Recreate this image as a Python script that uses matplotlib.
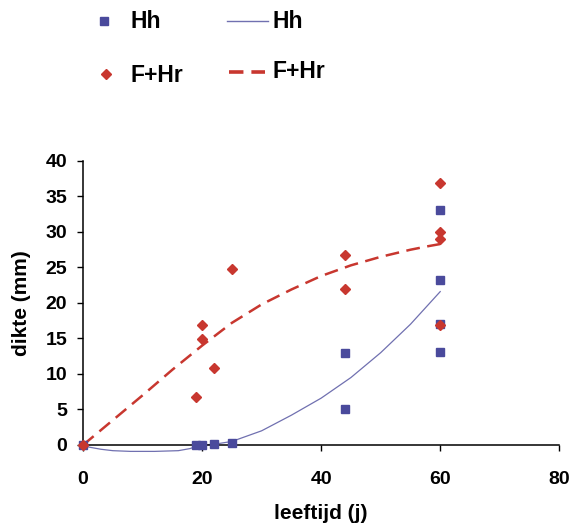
import matplotlib.pyplot as plt

plt.rcParams['font.family'] = ['Liberation Sans', 'DejaVu Sans']
plt.rcParams['font.weight'] = 'bold'

# meetpunten
hh_x = [0, 19, 20, 22, 25, 44, 44, 60, 60, 60, 60]
hh_y = [0, 0, 0, 0.2, 0.3, 13, 5.1, 33.1, 23.2, 17.1, 13.1]
fhr_x = [0, 19, 20, 20, 22, 25, 44, 44, 60, 60, 60, 60]
fhr_y = [0, 6.8, 16.9, 14.9, 10.8, 24.8, 26.8, 21.9, 36.9, 30.0, 29.0, 16.9]

hh_lijn_x = [0, 1, 3, 5, 8, 12, 16, 18, 19, 20, 22, 25, 30, 35, 40, 45, 50, 55, 60]
hh_lijn_y = [0, -0.3, -0.6, -0.8, -0.9, -0.9, -0.8, -0.5, -0.2, 0, 0.1, 0.5, 2.0, 4.2, 6.6, 9.5, 13.0, 17.0, 21.6]
fhr_lijn_x = [0, 5, 10, 15, 20, 25, 30, 35, 40, 45, 50, 55, 58, 60]
fhr_lijn_y = [0, 3.5, 7.0, 10.6, 14.0, 17.2, 19.8, 21.9, 23.8, 25.3, 26.5, 27.5, 28.0, 28.3]

blauw = '#4a4a9c'
lijnblauw = '#7070b0'
rood = '#c8372f'

fig = plt.figure(figsize=(5.73, 5.26), dpi=100)
ax = fig.add_axes([0.145, 0.154, 0.831, 0.540])

ax.plot(hh_lijn_x, hh_lijn_y, color=lijnblauw, lw=0.9, clip_on=False)
ax.plot(fhr_lijn_x, fhr_lijn_y, color=rood, lw=1.8, dashes=(5.5, 3), clip_on=False)
ax.plot(hh_x, hh_y, 's', color=blauw, ms=5.5, clip_on=False, zorder=3)
ax.plot(fhr_x, fhr_y, 'D', color=rood, ms=5, clip_on=False, zorder=3)

ax.set_xlim(0, 80)
ax.set_ylim(0, 40)
ax.set_xticks([0, 20, 40, 60, 80])
ax.set_yticks(range(0, 45, 5))
for s in ['top', 'right']:
    ax.spines[s].set_visible(False)
for s in ['left', 'bottom']:
    ax.spines[s].set_linewidth(1.1)
ax.tick_params(axis='both', direction='out', length=4.5, width=1.0, labelsize=14)
ax.tick_params(axis='x', pad=14)
ax.tick_params(axis='y', pad=7)
ax.set_xlabel('leeftijd (j)', fontsize=15, fontweight='bold', labelpad=12)
ax.set_ylabel('dikte (mm)', fontsize=15, fontweight='bold', labelpad=10)

# legenda in pixelcoordinaten
lax = fig.add_axes([0, 0, 1, 1])
lax.set_xlim(0, 573)
lax.set_ylim(526, 0)
lax.axis('off')
lfont = dict(fontsize=16.5, fontweight='bold', va='center', ha='left')
lax.plot([104], [21], 's', color=blauw, ms=6)
lax.text(131, 22, 'Hh', **lfont)
lax.plot([227, 268], [21, 21], color=lijnblauw, lw=1)
lax.text(273, 22, 'Hh', **lfont)
lax.plot([106], [74], 'D', color=rood, ms=5)
lax.text(131, 75, 'F+Hr', **lfont)
lax.plot([229, 265], [72, 72], color=rood, lw=2.6, dashes=(4, 2.2))
lax.text(273, 72, 'F+Hr', **lfont)

fig.savefig('out.png', dpi=100)
